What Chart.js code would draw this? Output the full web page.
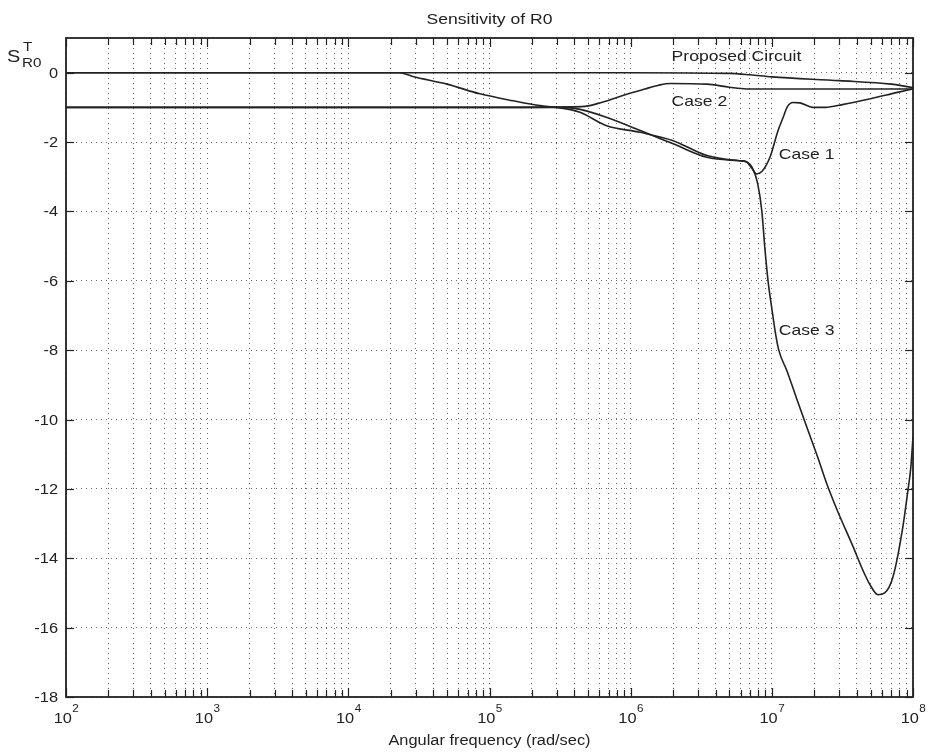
<!DOCTYPE html>
<html>
<head>
<meta charset="utf-8">
<title>Sensitivity of R0</title>
<script src="https://cdn.jsdelivr.net/npm/chart.js@4/dist/chart.umd.min.js"></script>
<style>
  html, body { margin: 0; padding: 0; background: #ffffff; }
  #c { display: block; }
</style>
</head>
<body>
<canvas id="c" width="928" height="753"></canvas>
<script>
// Angular frequency (rad/sec) and sensitivity values for each circuit
const proposedFreq = [1e2, 1e3, 1e4, 1e5, 1e6, 5e6, 7e6, 1e7, 3e7, 7e7, 1e8];
const proposedSens = [0, 0, 0, 0, 0, -0.02, -0.06, -0.12, -0.23, -0.33, -0.43];

const case1Freq = [1e2, 1e4, 1e5, 2.8e5, 4e5, 6.8e5, 1.17e6, 2e6, 3.47e6, 5.9e6, 6.6e6, 7.2e6, 7.8e6, 8.5e6,
                   9.7e6, 1.1e7, 1.2e7, 1.29e7, 1.41e7, 1.58e7, 1.95e7, 2.4e7, 3.16e7, 5e7, 7.9e7, 1e8];
const case1Sens = [-1, -1, -1, -1, -1.03, -1.29, -1.67, -2.05, -2.44, -2.54, -2.57, -2.75, -2.92, -2.85,
                   -2.44, -1.7, -1.3, -0.98, -0.86, -0.87, -1.0, -1.0, -0.92, -0.75, -0.56, -0.47];

const case2Freq = [1e2, 1e4, 1e5, 4.5e5, 6.3e5, 8.9e5, 1.26e6, 1.58e6, 1.9e6, 3.47e6, 5e6, 6.6e6, 1e7, 1e8];
const case2Sens = [-1, -1, -1, -0.98, -0.85, -0.65, -0.47, -0.36, -0.31, -0.33, -0.42, -0.47, -0.47, -0.47];

const case3Freq = [1e2, 1e4, 2.3e4, 2.86e4, 5e4, 8.55e4, 1.47e5, 2.28e5, 3e5, 4.37e5, 6.76e5, 1.17e6, 2e6,
                   3.47e6, 5.9e6, 6.6e6, 7.35e6, 7.94e6, 8.5e6, 8.9e6, 9.4e6, 1e7, 1.06e7, 1.12e7, 1.28e7,
                   1.5e7, 1.8e7, 2.12e7, 2.45e7, 2.93e7, 3.75e7, 4.42e7, 4.94e7, 5.64e7, 6.3e7, 7.2e7,
                   8.47e7, 9.2e7, 9.64e7, 1e8];
const case3Sens = [0, 0, 0, -0.11, -0.33, -0.61, -0.81, -0.95, -1.0, -1.14, -1.53, -1.72, -1.96,
                   -2.39, -2.54, -2.57, -2.78, -3.2, -4.0, -5.0, -6.0, -6.8, -7.5, -8.0, -8.6,
                   -9.4, -10.3, -11.1, -11.85, -12.65, -13.65, -14.35, -14.75, -15.05, -15.0, -14.55,
                   -13.1, -12.05, -11.4, -10.5];

// Axis ticks
const decades = [1e2, 1e3, 1e4, 1e5, 1e6, 1e7, 1e8];
const decadeExponents = ['2', '3', '4', '5', '6', '7', '8'];
const minorMultipliers = [2, 3, 4, 5, 6, 7, 8, 9];
const yTickValues = [0, -2, -4, -6, -8, -10, -12, -14, -16, -18];

// Curve annotations: text and the (frequency, sensitivity) point of their lower-left corner
const curveLabels = [
  { text: 'Proposed Circuit', freq: 1.95e6, sens: 0.33 },
  { text: 'Case 2', freq: 1.95e6, sens: -0.95 },
  { text: 'Case 1', freq: 1.12e7, sens: -2.50 },
  { text: 'Case 3', freq: 1.12e7, sens: -7.56 }
];

const INK = '#222222';
const FONT = '"Liberation Sans", Arial, Helvetica, sans-serif';
const STRETCH = 1.17;

const gridFreqs = [];
decades.forEach((d, i) => {
  gridFreqs.push(d);
  if (i < decades.length - 1) minorMultipliers.forEach(m => gridFreqs.push(m * d));
});

function toPoints(freqs, vals) {
  return freqs.map((f, i) => ({ x: f, y: vals[i] }));
}

function curve(label, freqs, vals) {
  return {
    label,
    data: toPoints(freqs, vals),
    borderColor: INK,
    borderWidth: 1.6,
    pointRadius: 0,
    fill: false,
    cubicInterpolationMode: 'monotone'
  };
}

// Helvetica-like text, slightly widened
function wideText(ctx, str, x, y, size, align) {
  ctx.save();
  ctx.font = size + 'px ' + FONT;
  const w = ctx.measureText(str).width * STRETCH;
  const left = align === 'center' ? x - w / 2 : align === 'right' ? x - w : x;
  ctx.translate(left, y);
  ctx.scale(STRETCH, 1);
  ctx.textAlign = 'left';
  ctx.textBaseline = 'alphabetic';
  ctx.fillStyle = INK;
  ctx.fillText(str, 0, 0);
  ctx.restore();
  return w;
}

function measureWide(ctx, str, size) {
  ctx.save();
  ctx.font = size + 'px ' + FONT;
  const w = ctx.measureText(str).width * STRETCH;
  ctx.restore();
  return w;
}

const framePlugin = {
  id: 'frame',
  afterDraw(chart) {
    const { ctx, chartArea: a, scales } = chart;
    const xs = scales.x, ys = scales.y;
    ctx.save();
    ctx.strokeStyle = INK;
    ctx.lineWidth = 1.2;
    const seg = (x1, y1, x2, y2) => { ctx.beginPath(); ctx.moveTo(x1, y1); ctx.lineTo(x2, y2); ctx.stroke(); };

    // inward tick marks on all four sides
    gridFreqs.forEach(v => {
      const px = Math.round(xs.getPixelForValue(v)) + 0.5;
      const len = decades.includes(v) ? 9 : 7;
      seg(px, a.bottom, px, a.bottom - len);
      seg(px, a.top, px, a.top + len);
    });
    yTickValues.forEach(v => {
      const py = Math.round(ys.getPixelForValue(v)) + 0.5;
      seg(a.left, py, a.left + 8, py);
      seg(a.right, py, a.right - 8, py);
    });

    // plot box
    ctx.lineWidth = 1.8;
    ctx.strokeRect(a.left, a.top, a.right - a.left, a.bottom - a.top);
    ctx.restore();

    // y tick labels
    yTickValues.forEach(v => {
      wideText(ctx, String(v), a.left - 8, ys.getPixelForValue(v) + 5, 14, 'right');
    });

    // x tick labels: 10 with superscript exponent
    decades.forEach((d, i) => {
      const px = xs.getPixelForValue(d);
      const wBase = measureWide(ctx, '10', 14);
      const wExp = measureWide(ctx, decadeExponents[i], 10);
      const left = px - (wBase + wExp) / 2;
      wideText(ctx, '10', left, a.bottom + 26, 14, 'left');
      wideText(ctx, decadeExponents[i], left + wBase + 0.5, a.bottom + 15, 10, 'left');
    });

    // titles
    const cx = (a.left + a.right) / 2;
    wideText(ctx, 'Sensitivity of R0', cx, 24, 15, 'center');
    wideText(ctx, 'Angular frequency (rad/sec)', cx, a.bottom + 48, 14, 'center');

    // y axis label: S with superscript T and subscript R0
    wideText(ctx, 'S', 7, 62, 17, 'left');
    wideText(ctx, 'T', 23, 51, 13, 'left');
    wideText(ctx, 'R0', 22, 67, 13, 'left');

    // curve annotations
    curveLabels.forEach(l => {
      wideText(ctx, l.text, xs.getPixelForValue(l.freq), ys.getPixelForValue(l.sens), 15, 'left');
    });
  }
};

new Chart(document.getElementById('c'), {
  type: 'line',
  data: {
    datasets: [
      curve('Proposed Circuit', proposedFreq, proposedSens),
      curve('Case 1', case1Freq, case1Sens),
      curve('Case 2', case2Freq, case2Sens),
      curve('Case 3', case3Freq, case3Sens)
    ]
  },
  options: {
    responsive: false,
    animation: false,
    parsing: false,
    normalized: true,
    layout: { padding: { left: 66, right: 15, top: 38, bottom: 56 } },
    plugins: { legend: { display: false }, tooltip: { enabled: false }, title: { display: false } },
    elements: { line: { borderCapStyle: 'round', borderJoinStyle: 'round' } },
    scales: {
      x: {
        type: 'logarithmic',
        min: 1e2,
        max: 1e8,
        afterBuildTicks: scale => { scale.ticks = gridFreqs.map(v => ({ value: v })); },
        ticks: { display: false },
        grid: { color: '#6a6a6a', lineWidth: 1, drawTicks: false },
        border: { display: false, dash: [1, 4] }
      },
      y: {
        type: 'linear',
        min: -18,
        max: 1,
        afterBuildTicks: scale => { scale.ticks = yTickValues.map(v => ({ value: v })); },
        ticks: { display: false },
        grid: { color: '#6a6a6a', lineWidth: 1, drawTicks: false },
        border: { display: false, dash: [1, 4] }
      }
    }
  },
  plugins: [framePlugin]
});
</script>
</body>
</html>
